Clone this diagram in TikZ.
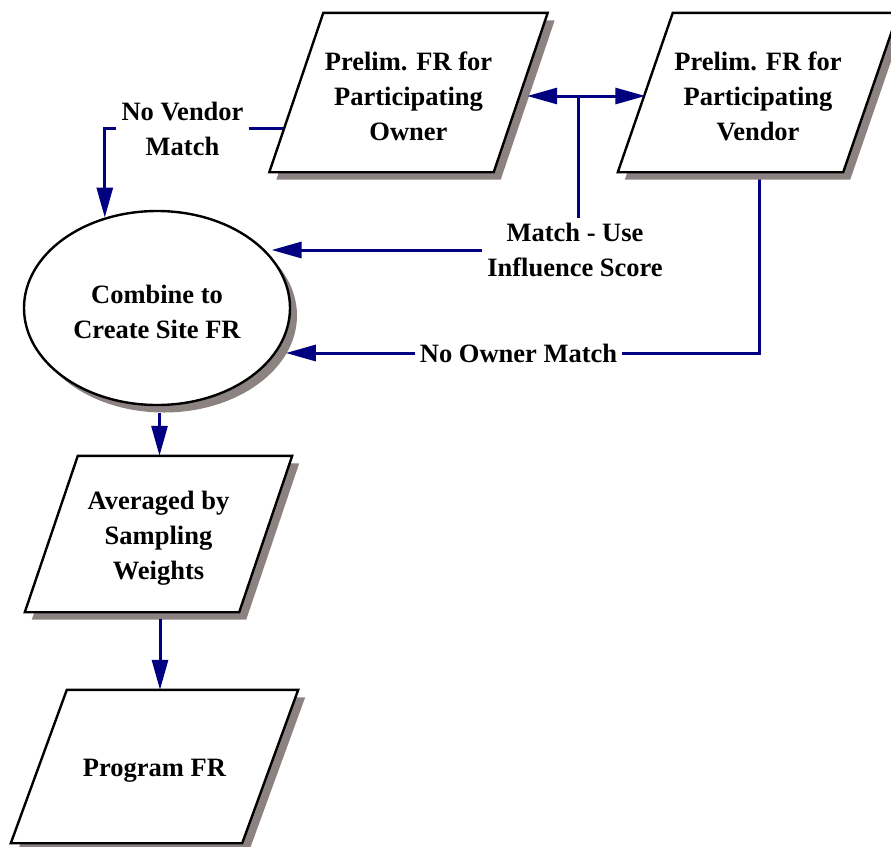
\documentclass[tikz,border=0pt]{standalone}
\usepackage{fontspec}
\setmainfont{Liberation Serif}
\usetikzlibrary{shapes.geometric,shadows,arrows.meta}

\definecolor{flowblue}{RGB}{0,0,128}
\definecolor{shadowgray}{RGB}{140,130,130}

\pgfdeclarelayer{bg}
\pgfdeclarelayer{shapes}
\pgfsetlayers{bg,shapes,main}

\tikzset{
  txt/.style={font=\bfseries\fontsize{26.5}{35}\selectfont, align=center},
  shadowed/.style={drop shadow={shadow xshift=7pt, shadow yshift=-7.5pt,
    fill=shadowgray, opacity=1}},
  outline/.style={draw=black, line width=2.4pt, fill=white, line join=miter, shadowed},
  % invisible frame of a parallelogram: width of one edge, full height
  paraframe/.style n args={2}{shape=rectangle, draw=none, inner sep=0pt,
    minimum width=#1, minimum height=#2},
  inner/.style={label={[txt, yshift=-4pt]center:#1}},
  lbl/.style={txt, inner sep=5pt},
  flow/.style={draw=flowblue, line width=3pt},
  tip/.style={-{Triangle[length=30pt,width=16pt]}},
}

% parallelogram leaning right round an invisible frame node
\newcommand{\paraoutline}[2]{%
  \path[outline] ([xshift=#2]#1.north west) -- ([xshift=#2]#1.north east)
    -- ([xshift=-#2]#1.south east) -- ([xshift=-#2]#1.south west) -- cycle;}

\begin{document}
\begin{tikzpicture}[x=1pt, y=-1pt]
  \useasboundingbox (0,0) rectangle (891,846);

  % process steps
  \node[paraframe={224pt}{159pt}, inner={Prelim. FR for\\Participating\\Owner}]
    (owner) at (408.5,92.5) {};
  \node[paraframe={225pt}{159pt}, inner={Prelim. FR for\\Participating\\Vendor}]
    (vendor) at (758,92.5) {};
  \node[ellipse, outline, inner sep=0pt, minimum width=266pt, minimum height=194pt,
    inner={Combine to\\Create Site FR}] (combine) at (157,308) {};
  \node[paraframe={214pt}{156pt}, inner={Averaged by\\Sampling\\Weights}]
    (averaged) at (158.5,534) {};
  \node[paraframe={231pt}{153pt}, inner={Program FR}]
    (program) at (154.5,766.5) {};

  \begin{pgfonlayer}{shapes}
    \paraoutline{owner}{27pt}
    \paraoutline{vendor}{27.5pt}
    \paraoutline{averaged}{26.5pt}
    \paraoutline{program}{28pt}
  \end{pgfonlayer}

  % branch labels
  \node[lbl] (novendor) at (182.5,128.5) {No Vendor\\Match};
  \node[lbl] (matchlbl) at (575,250) {Match - Use\\Influence Score};
  \node[lbl] (noowner) at (518.5,353) {No Owner Match};

  \coordinate (junction) at (578,96);
  \coordinate (vcorner) at (759,353);

  % plain lines, tucked behind the shapes
  \begin{pgfonlayer}{bg}
    \draw[flow] (novendor.east) -- (novendor.east -| owner.center);
    \draw[flow] (noowner.east) -- (vcorner) -- (vcorner |- vendor.center);
  \end{pgfonlayer}

  % match branch
  \draw[flow] (junction) -- (junction |- matchlbl.north);
  \draw[flow, tip, shorten >=6.5pt] (junction) -- (junction -| owner.east);
  \draw[flow, tip] (junction) -- (junction -| vendor.west);

  % arrows into the combine step
  \draw[flow, tip] (novendor.west) -| (combine.120);
  \draw[flow, tip, shorten >=6pt] (matchlbl.west) -- (matchlbl.west -| combine.28);
  \draw[flow, tip, shorten >=10pt] (noowner.west) -- (noowner.west -| combine.-21);

  % downstream chain
  \draw[flow, tip, shorten <=7pt] ([xshift=2.5pt]combine.south)
    -- ([xshift=2.5pt]combine.south |- averaged.north);
  \draw[flow, tip, shorten <=7pt] ([xshift=1.5pt]averaged.south)
    -- ([xshift=1.5pt]averaged.south |- program.north);
\end{tikzpicture}
\end{document}
